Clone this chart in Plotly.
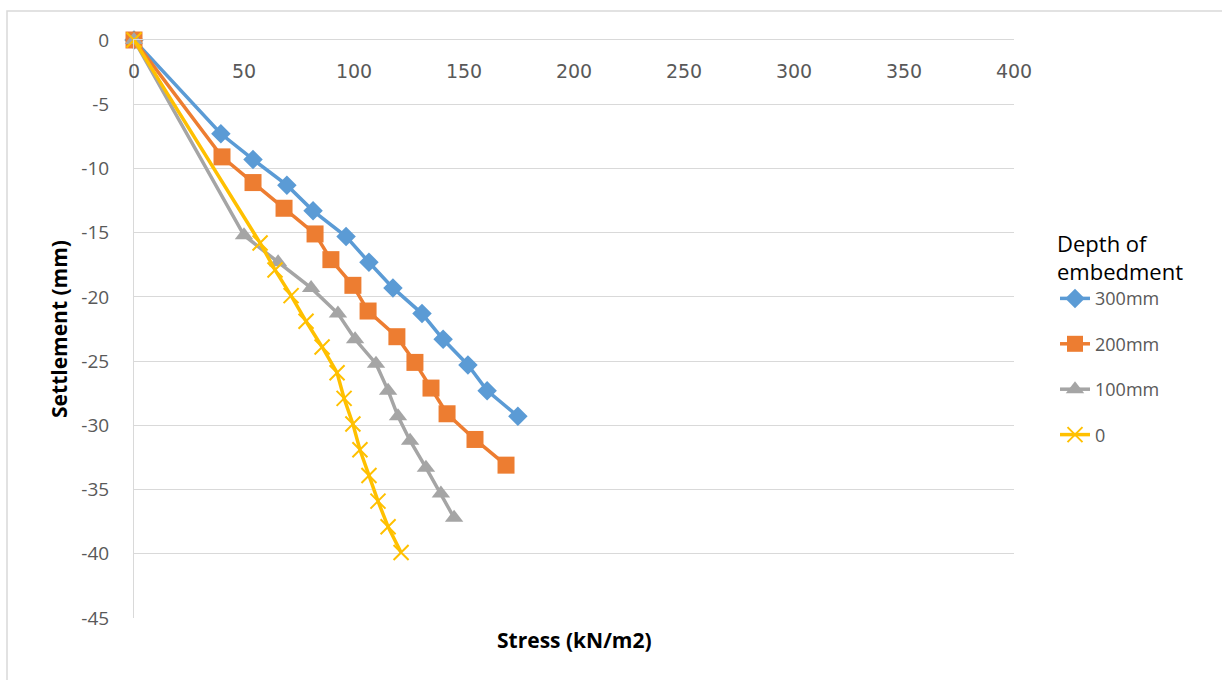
import plotly.graph_objects as go

# Data
stress_300 = [0, 39.5, 54.1, 69.5, 81.4, 96.4, 106.8, 117.7, 130.9, 140.5, 151.8, 160.5, 174.5]
settle_300 = [0, -7.3, -9.3, -11.3, -13.3, -15.3, -17.3, -19.3, -21.3, -23.3, -25.3, -27.3, -29.3]

stress_200 = [0, 40.0, 54.1, 68.2, 82.3, 89.5, 99.5, 106.4, 119.5, 127.7, 135.0, 142.3, 155.0, 169.1]
settle_200 = [0, -9.1, -11.1, -13.1, -15.1, -17.1, -19.1, -21.1, -23.1, -25.1, -27.1, -29.1, -31.1, -33.1]

stress_100 = [0, 50.0, 65.5, 80.5, 92.7, 100.5, 110.0, 115.5, 120.0, 125.5, 132.7, 139.5, 145.5]
settle_100 = [0, -15.2, -17.3, -19.3, -21.3, -23.3, -25.2, -27.3, -29.3, -31.2, -33.3, -35.3, -37.2]

stress_0 = [0, 57.3, 64.1, 71.4, 78.2, 85.5, 92.3, 95.5, 99.5, 102.7, 106.8, 110.9, 115.5, 121.4]
settle_0 = [0, -15.8, -17.9, -19.9, -21.9, -23.9, -25.9, -27.9, -29.9, -31.9, -33.9, -35.9, -37.9, -39.9]

series_names = ["300mm", "200mm", "100mm", "0"]
x_ticks = [0, 50, 100, 150, 200, 250, 300, 350, 400]
x_tick_labels = ["0", "50", "100", "150", "200", "250", "300", "350", "400"]
y_ticks = [0, -5, -10, -15, -20, -25, -30, -35, -40, -45]
y_tick_labels = ["0", "-5", "-10", "-15", "-20", "-25", "-30", "-35", "-40", "-45"]

colors = ["#5B9BD5", "#ED7D31", "#A5A5A5", "#FFC000"]

fig = go.Figure()

fig.add_trace(go.Scatter(
    x=stress_300, y=settle_300, name=series_names[0], mode="lines+markers",
    line=dict(color=colors[0], width=3.5),
    marker=dict(symbol="diamond", size=15, color=colors[0]),
    cliponaxis=False, legendgroup="a"))
fig.add_trace(go.Scatter(
    x=stress_200, y=settle_200, name=series_names[1], mode="lines+markers",
    line=dict(color=colors[1], width=3.5),
    marker=dict(symbol="square", size=17, color=colors[1]),
    cliponaxis=False, legendgroup="b"))
fig.add_trace(go.Scatter(
    x=stress_100, y=settle_100, name=series_names[2], mode="lines+markers",
    line=dict(color=colors[2], width=3.5),
    marker=dict(symbol="triangle-up", size=16, color=colors[2]),
    cliponaxis=False, legendgroup="c"))
fig.add_trace(go.Scatter(
    x=stress_0, y=settle_0, name=series_names[3], mode="lines+markers",
    line=dict(color=colors[3], width=3.5),
    marker=dict(symbol="x-thin", size=15, color=colors[3],
                line=dict(color=colors[3], width=2)),
    cliponaxis=False, legendgroup="d"))

fig.update_layout(
    width=1222, height=680,
    margin=dict(l=134, r=208, t=40, b=62, autoexpand=False),
    paper_bgcolor="white", plot_bgcolor="white",
    font=dict(family="Open Sans", color="#595959"),
    xaxis=dict(
        range=[0, 400], tickvals=x_ticks, ticktext=x_tick_labels, side="top",
        ticklabelposition="inside", ticklabelstandoff=26, ticklabeloverflow="allow",
        showgrid=False, zeroline=False,
        showline=True, linecolor="#d9d9d9", linewidth=1,
        ticks="", tickfont=dict(family="DejaVu Sans", size=19, color="#595959"),
    ),
    yaxis=dict(
        range=[-45, 0], tickvals=y_ticks, ticktext=y_tick_labels,
        showgrid=True, gridcolor="#d9d9d9", gridwidth=1,
        zeroline=False, showline=True, linecolor="#d9d9d9", linewidth=1,
        ticks="", ticklabelstandoff=20, ticklabeloverflow="allow",
        tickfont=dict(family="Open Sans", size=19, color="#595959"),
        title=dict(text="Settlement (mm)", standoff=8,
                   font=dict(family="Open Sans", size=21, color="black", weight="bold")),
    ),
    legend=dict(
        x=1.0466, y=(618 - 223) / 578, xanchor="left", yanchor="top",
        title=dict(text="Depth of<br>embedment",
                   font=dict(family="Open Sans", size=22, color="black")),
        font=dict(family="Open Sans", size=18, color="#595959"),
        tracegroupgap=19, traceorder="grouped", itemwidth=30,
        bgcolor="rgba(0,0,0,0)",
    ),
    annotations=[dict(
        text="Stress (kN/m2)", xref="paper", yref="paper",
        x=0.5, y=-(640 - 618) / 578, xanchor="center", yanchor="middle", showarrow=False,
        font=dict(family="Open Sans", size=21, color="black", weight="bold"),
    )],
    shapes=[dict(
        type="rect", xref="paper", yref="paper",
        x0=(7 - 134) / 880, x1=(1240 - 134) / 880,
        y0=-(700 - 618) / 578, y1=1 + (40 - 11) / 578,
        line=dict(color="#d9d9d9", width=1.5), fillcolor="rgba(0,0,0,0)",
        layer="below",
    )],
)

fig.write_html("out.html")
